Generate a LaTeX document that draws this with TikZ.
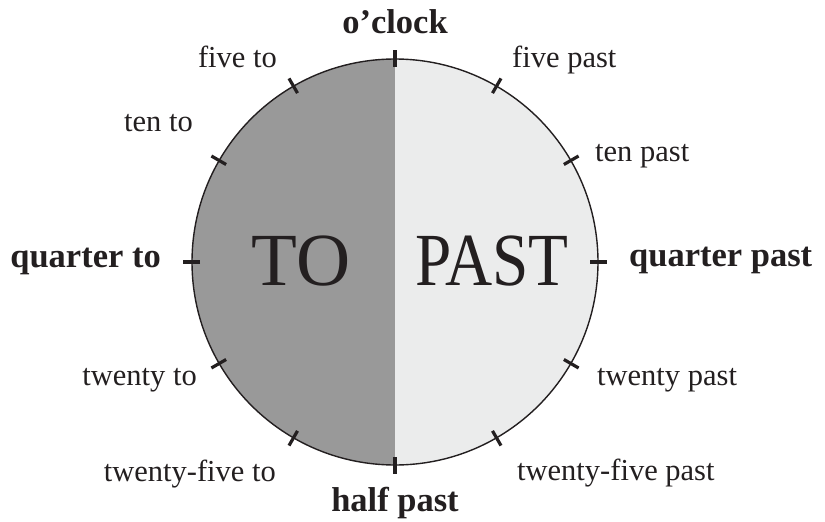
\documentclass[tikz,border=0pt]{standalone}
\usepackage{fontspec}
\setmainfont{Liberation Serif}
\usepackage{graphicx}
\definecolor{ink}{HTML}{231F20}
\definecolor{togray}{HTML}{999999}
\definecolor{pastgray}{HTML}{EBECEC}
\tikzset{
  lbl/.style={inner sep=0pt, text=ink, font=\fontsize{30.5}{32}\selectfont},
  keylbl/.style={inner sep=0pt, text=ink, font=\fontsize{34.5}{36}\selectfont\bfseries},
  biglbl/.style={inner sep=0pt, text=ink, font=\fontsize{75}{78}\selectfont},
  tickmark/.style={line width=3.2pt, draw=ink},
  rim/.style={line width=1.4pt, draw=ink}
}
\begin{document}
\begin{tikzpicture}[x=1pt,y=-1pt]
\useasboundingbox (0,0) rectangle (825,522);
\coordinate (c) at (395,262);
\begin{scope}
  \clip (c) circle (203pt);
  \fill[togray] (150,40) rectangle (395,480);
  \fill[pastgray] (395,40) rectangle (640,480);
\end{scope}
\draw[rim] (c) circle (203pt);
\foreach \a in {0,30,...,330}{
  \draw[tickmark] ([shift={(\a:195)}]c) -- ([shift={(\a:212)}]c);
}
\node[biglbl, anchor=base] (to) at (301,285) {TO};
\node[biglbl, anchor=base] (past) at (492,285) {\scalebox{0.87}[1]{PAST}};

\node[keylbl, anchor=base] (oclock) at (395,33) {o’clock};
\node[keylbl, anchor=base] (half) at (395,511) {half past};
\node[keylbl, anchor=base east] (qto) at (161,267) {quarter to};
\node[keylbl, anchor=base west] (qpast) at (629,266) {quarter past};

\node[lbl, anchor=base east] (fiveto) at (277,67) {five to};
\node[lbl, anchor=base east] (tento) at (193,131) {ten to};
\node[lbl, anchor=base east] (twentyto) at (197,385) {twenty to};
\node[lbl, anchor=base east] (tfto) at (276,481) {twenty-five to};

\node[lbl, anchor=base west] (fivepast) at (512,67) {five past};
\node[lbl, anchor=base west] (tenpast) at (595,161) {ten past};
\node[lbl, anchor=base west] (twentypast) at (597,385) {twenty past};
\node[lbl, anchor=base west] (tfpast) at (517,480) {twenty-five past};
\end{tikzpicture}
\end{document}
